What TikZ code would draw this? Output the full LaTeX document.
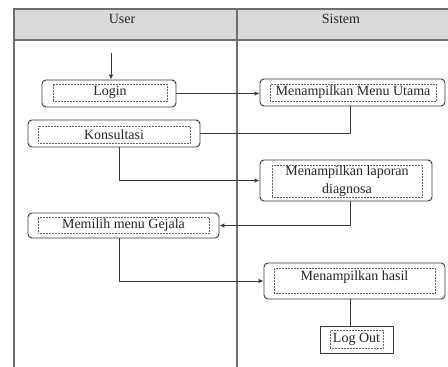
\documentclass[tikz,border=0pt]{standalone}
\usepackage{fontspec}
\setmainfont{Liberation Serif}
\usetikzlibrary{arrows.meta}
\definecolor{hdr}{HTML}{D9D9D9}
\definecolor{tbl}{HTML}{6E6E6E}
\definecolor{ln}{HTML}{3A3A3A}
\begin{document}
\begin{tikzpicture}[x=1pt,y=1pt,
  outerbox/.style={draw=ln,line width=0.9pt,rounded corners=4pt,inner sep=0pt,minimum width=#1},
  squarebox/.style={draw=ln,line width=0.9pt,inner sep=0pt,minimum width=#1},
  innerbox/.style={draw=ln!80,densely dotted,line width=0.5pt,inner sep=0pt,minimum width=#1,font=\fontsize{14}{18}\selectfont,align=center,text=black!85},
  conn/.style={draw=ln,line width=0.9pt},
  arr/.style={conn,-{Latex[length=5pt,width=4.5pt]}},
  hdrtext/.style={font=\fontsize{14}{16}\selectfont,text=black!85}]
\useasboundingbox (0,0) rectangle (448,-367);
\fill[white] (0,0) rectangle (448,-367);
% table
\fill[hdr] (14,-9) rectangle (449,-40);
\draw[tbl,line width=1.2pt] (14,-367) -- (14,-9) -- (449,-9);
\draw[tbl,line width=1.2pt] (14,-40) -- (449,-40);
\draw[tbl,line width=1.2pt] (237,-9) -- (237,-367);
\node[hdrtext] (huser) at (122,-19) {User};
\node[hdrtext] (hsis) at (341,-19) {Sistem};
% boxes
\node[outerbox=134pt,minimum height=27pt] (loginO) at (109,-93.5) {};
\node[innerbox=114pt,minimum height=17pt] (login) at (110,-92.5) {Login};
\node[outerbox=185pt,minimum height=27pt] (menuO) at (352.5,-92.5) {};
\node[innerbox=166pt,minimum height=17pt] (menu) at (353,-92.5) {Menampilkan Menu Utama};
\node[outerbox=172pt,minimum height=27pt] (konsO) at (114,-133.5) {};
\node[innerbox=152pt,minimum height=17pt] (kons) at (114,-134.5) {Konsultasi};
\node[outerbox=172pt,minimum height=41pt] (lapO) at (346,-180.5) {};
\node[innerbox=150pt,minimum height=32pt] (lap) at (347,-181) {Menampilkan laporan\\diagnosa};
\node[outerbox=191pt,minimum height=25pt] (memO) at (123.5,-225.5) {};
\node[innerbox=171pt,minimum height=16pt] (mem) at (123.5,-225) {Memilih menu Gejala};
\node[outerbox=181pt,minimum height=36pt] (hasilO) at (354.5,-281) {};
\node[innerbox=161pt,minimum height=25pt,text height=12pt,text depth=13pt] (hasil) at (354.5,-280.5) {};
\node[font=\fontsize{14}{18}\selectfont,text=black!85,anchor=center] (hasilT) at (354.5,-277) {Menampilkan hasil};
\node[squarebox=73pt,minimum height=27pt] (logO) at (356.5,-339.5) {};
\node[innerbox=53pt,minimum height=18pt] (logout) at (356.5,-339) {Log Out};
% connectors
\coordinate (start) at (111,-53);
\draw[arr] (start) -- (start |- loginO.north);
\draw[arr] (loginO.east) -- (menuO.west |- loginO.east);
\draw[conn] ([xshift=-2.5pt]menuO.south) |- (konsO.east);
\draw[arr] ([xshift=5pt]konsO.south) |- (lapO.west);
\draw[arr] ([xshift=4pt]lapO.south) |- (memO.east);
\draw[arr] ([xshift=-4.5pt]memO.south) |- (hasilO.west);
\draw[conn] ([xshift=-4.5pt]hasilO.south) -- ([xshift=-4.5pt]hasilO.south |- logO.north);
\end{tikzpicture}
\end{document}
